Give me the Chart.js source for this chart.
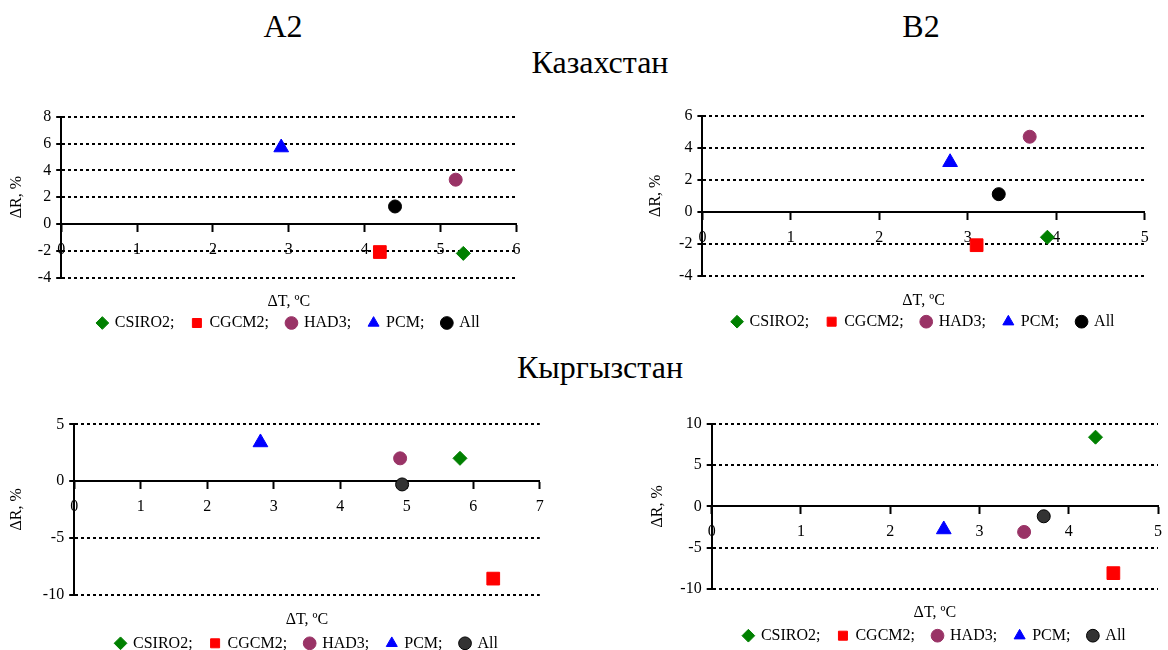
<!DOCTYPE html>
<html lang="ru">
<head>
<meta charset="UTF-8">
<title>ΔR / ΔT — Казахстан, Кыргызстан</title>
<script src="https://cdn.jsdelivr.net/npm/chart.js"></script>
<style>
  html, body { margin: 0; padding: 0; background: #fff; overflow: hidden; }
  body { width: 1168px; height: 650px; position: relative; font-family: 'Liberation Serif', 'Times New Roman', serif; }
  .ttl { position: absolute; width: 300px; text-align: center; font-size: 32px; line-height: 32px; color: #000; z-index: 2; }
  canvas { position: absolute; }
</style>
</head>
<body>
  <div class="ttl" style="left:133px; top:10px">A2</div>
  <div class="ttl" style="left:771px; top:10px">B2</div>
  <div class="ttl" style="left:450px; top:46px">Казахстан</div>
  <div class="ttl" style="left:450px; top:351px">Кыргызстан</div>

  <canvas id="kazA2" width="580" height="245" style="left:0; top:100px"></canvas>
  <canvas id="kazB2" width="528" height="245" style="left:640px; top:100px"></canvas>
  <canvas id="kyrA2" width="580" height="270" style="left:0; top:400px"></canvas>
  <canvas id="kyrB2" width="528" height="265" style="left:640px; top:400px"></canvas>

<script>
  const seriesNames = ['CSIRO2;', 'CGCM2;', 'HAD3;', 'PCM;', 'All'];

  // Казахстан, A2
  const kazA2_dT = [5.3, 4.2, 5.2, 2.9, 4.4];
  const kazA2_dR = [-2.2, -2.1, 3.3, 5.7, 1.3];
  // Казахстан, B2
  const kazB2_dT = [3.9, 3.1, 3.7, 2.8, 3.35];
  const kazB2_dR = [-1.6, -2.1, 4.7, 3.1, 1.1];
  // Кыргызстан, A2
  const kyrA2_dT = [5.8, 6.3, 4.9, 2.8, 4.93];
  const kyrA2_dR = [2.0, -8.6, 2.0, 3.4, -0.3];
  // Кыргызстан, B2
  const kyrB2_dT = [4.3, 4.5, 3.5, 2.6, 3.72];
  const kyrB2_dR = [8.4, -8.1, -3.1, -2.8, -1.2];

  // axis ticks: [min, max, step]
  const kazA2_xTicks = [0, 6, 1], kazA2_yTicks = [-4, 8, 2];
  const kazB2_xTicks = [0, 5, 1], kazB2_yTicks = [-4, 6, 2];
  const kyrA2_xTicks = [0, 7, 1], kyrA2_yTicks = [-10, 5, 5];
  const kyrB2_xTicks = [0, 5, 1], kyrB2_yTicks = [-10, 10, 5];

  const markers = [
    { style: 'rectRot', color: '#008000', r: 7 },
    { style: 'rect', color: '#ff0000', r: 9 },
    { style: 'circle', color: '#993366', r: 6.5 },
    { style: 'triangle', color: '#0000ff', r: 8.5 },
    { style: 'circle', color: '#000000', r: 6.5 }
  ];

  Chart.defaults.font.family = "'Liberation Serif', 'Times New Roman', serif";
  Chart.defaults.font.size = 16;
  Chart.defaults.color = '#000';

  function drawPanel(id, dT, dR, xTicks, yTicks, g, allFill) {
    const datasets = seriesNames.map((name, i) => ({
      label: name,
      data: [{ x: dT[i], y: dR[i] }],
      pointStyle: markers[i].style,
      pointRadius: markers[i].r,
      pointHoverRadius: markers[i].r,
      backgroundColor: i === 4 ? allFill : markers[i].color,
      borderColor: markers[i].color,
      borderWidth: 1,
      clip: false
    }));

    return new Chart(document.getElementById(id), {
      type: 'scatter',
      data: { datasets },
      options: {
        responsive: false,
        animation: false,
        devicePixelRatio: 1,
        layout: { padding: g.pad },
        scales: {
          x: {
            type: 'linear',
            position: { y: 0 },
            min: xTicks[0], max: xTicks[1],
            ticks: { stepSize: xTicks[2], padding: 9 },
            grid: { drawOnChartArea: false, tickLength: 7, tickWidth: 2, tickColor: '#000' },
            border: { color: '#000', width: 2 },
            afterFit: s => { s.height = 0; s.paddingLeft = 0; s.paddingRight = 0; }
          },
          y: {
            min: yTicks[0], max: yTicks[1],
            ticks: { stepSize: yTicks[2], padding: 5 },
            grid: {
              color: c => (c.tick && c.tick.value === 0) ? 'rgba(0,0,0,0)' : '#000',
              lineWidth: 2, tickLength: 5, tickWidth: 2, tickColor: '#000'
            },
            border: { color: '#000', width: 2, dash: [3, 3] },
            title: { display: true, text: 'ΔR, %', padding: { top: 4, bottom: 0 } },
            afterFit: s => { s.width = g.yw; s.paddingTop = 0; s.paddingBottom = 0; }
          }
        },
        plugins: {
          legend: {
            position: 'bottom', fullSize: false,
            labels: { usePointStyle: true, boxWidth: 9, boxHeight: 9, padding: 18 }
          },
          title: {
            display: true, position: 'bottom', fullSize: false, weight: 1,
            text: 'ΔT, ºC', padding: g.tp,
            font: { size: 16, weight: 'normal' }
          },
          tooltip: { enabled: false }
        }
      }
    });
  }

  drawPanel('kazA2', kazA2_dT, kazA2_dR, kazA2_xTicks, kazA2_yTicks,
    { pad: { left: 3, right: 63.6, top: 16.7, bottom: 4 }, yw: 58.2, tp: { top: 15.1, bottom: -14.8 } }, '#000');
  drawPanel('kazB2', kazB2_dT, kazB2_dR, kazB2_xTicks, kazB2_yTicks,
    { pad: { left: 2.4, right: 23.3, top: 16, bottom: 5.3 }, yw: 60, tp: { top: 16.1, bottom: -15.1 } }, '#000');
  drawPanel('kyrA2', kyrA2_dT, kyrA2_dR, kyrA2_xTicks, kyrA2_yTicks,
    { pad: { left: 3.1, right: 40.2, top: 24.3, bottom: 8.7 }, yw: 71.1, tp: { top: 15.4, bottom: -11.8 } }, '#333');
  drawPanel('kyrB2', kyrB2_dT, kyrB2_dR, kyrB2_xTicks, kyrB2_yTicks,
    { pad: { left: 4.4, right: 9.2, top: 24, bottom: 11.3 }, yw: 67.3, tp: { top: 14.4, bottom: -12.7 } }, '#333');
</script>
</body>
</html>
